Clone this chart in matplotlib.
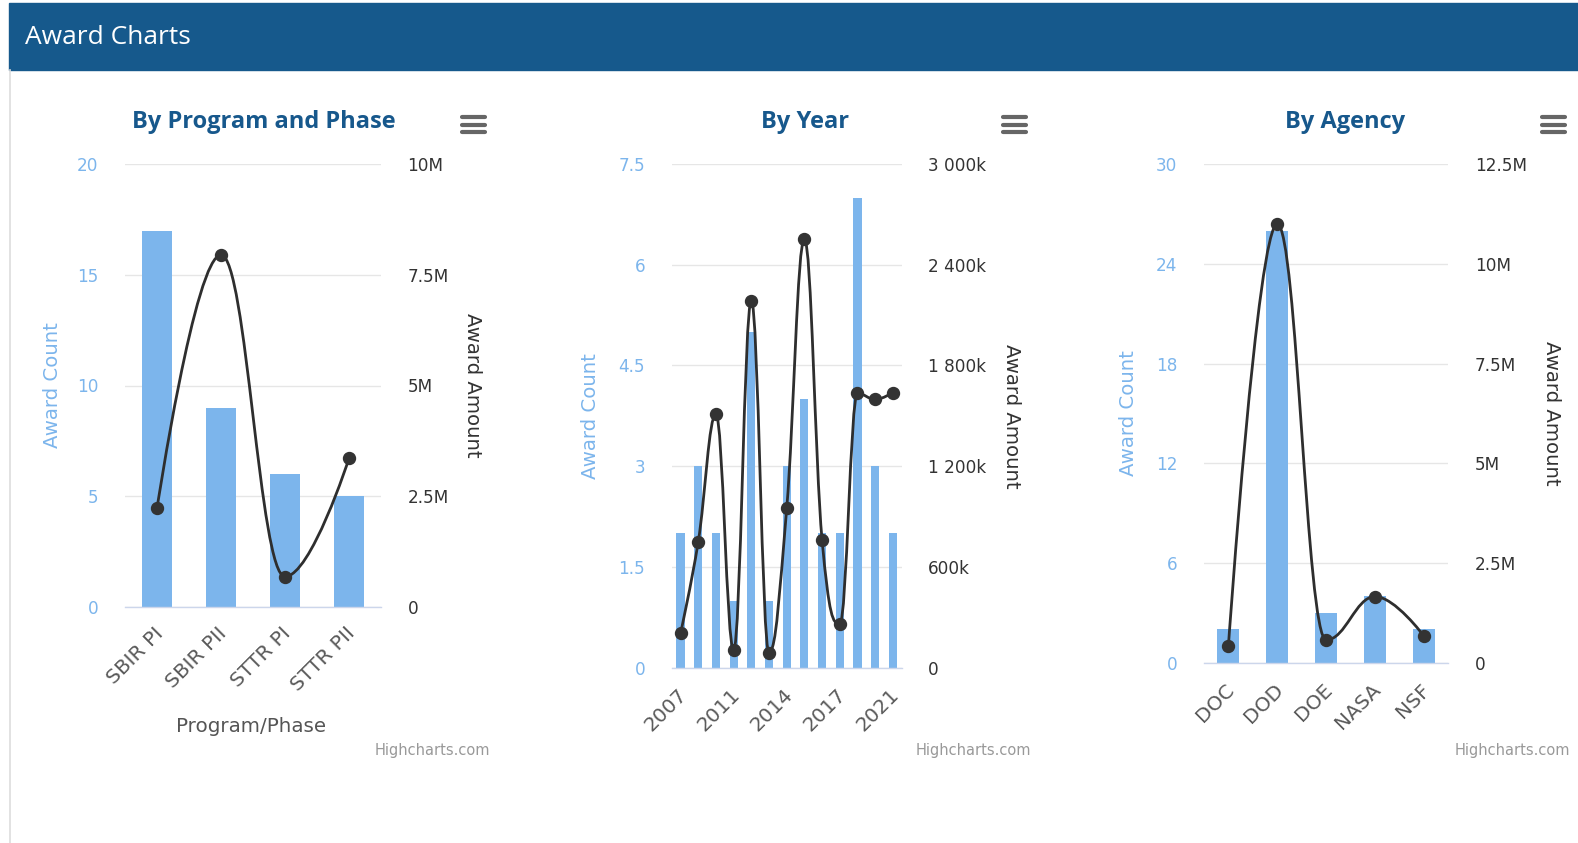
import matplotlib
matplotlib.use("Agg")
import matplotlib.pyplot as plt
from matplotlib.path import Path
from matplotlib.patches import PathPatch, Rectangle
from matplotlib.lines import Line2D
from matplotlib.ticker import FixedLocator, FuncFormatter

# ---- data ---------------------------------------------------------------
phase_labels = ["SBIR PI", "SBIR PII", "STTR PI", "STTR PII"]
phase_counts = [17, 9, 6, 5]
phase_amounts = [2.22e6, 7.95e6, 0.68e6, 3.35e6]

year_labels = ["2007", "2008", "2010", "2011", "2012", "2013", "2014",
               "2015", "2016", "2017", "2018", "2019", "2021"]
year_counts = [2, 3, 2, 1, 5, 1, 3, 4, 2, 2, 7, 3, 2]
year_amounts = [205e3, 750e3, 1509e3, 105e3, 2186e3, 89e3, 949e3,
                2553e3, 760e3, 260e3, 1634e3, 1598e3, 1638e3]

agency_labels = ["DOC", "DOD", "DOE", "NASA", "NSF"]
agency_counts = [2, 26, 3, 4, 2]
agency_amounts = [0.43e6, 11.0e6, 0.57e6, 1.66e6, 0.67e6]

# ---- styling ------------------------------------------------------------
W, H = 1578, 843
DPI = 100
BAR = "#7cb5ec"
LINE = "#2e2e2e"
TITLE_BLUE = "#17588c"
HEADER_BLUE = "#16598c"
GRID = "#e6e6e6"
AXIS = "#ccd6eb"
TICK_DARK = "#333333"
XTICK = "#5a5a5a"

fig = plt.figure(figsize=(W / DPI, H / DPI), dpi=DPI)
fig.patch.set_facecolor("white")


def fx(x):
    return x / W


def fy(y):
    return 1 - y / H


def axes_px(x0, x1, y0, y1):
    return fig.add_axes([fx(x0), fy(y1), (x1 - x0) / W, (y1 - y0) / H])


# page header and left border
fig.add_artist(Rectangle((fx(9), fy(70)), fx(W) - fx(9), (70 - 3) / H,
                         transform=fig.transFigure, color=HEADER_BLUE, zorder=0))
fig.add_artist(Line2D([fx(9.5), fx(9.5)], [fy(70), fy(843)],
                      transform=fig.transFigure, color="#dddddd", lw=1.2))
fig.text(fx(25), fy(38), "Award Charts", color="white", fontsize=19,
         family="Open Sans", va="center", ha="left")


def hc_spline(xs, ys):
    """Cubic path through the points using the Highcharts spline rule."""
    n = len(xs)
    verts = [(xs[0], ys[0])]
    codes = [Path.MOVETO]
    right = [None] * n
    s = 1.5
    d = s + 1
    for i in range(1, n):
        px, py = xs[i], ys[i]
        lx, ly = xs[i - 1], ys[i - 1]
        left = (px, py)
        if i < n - 1:
            nx, ny = xs[i + 1], ys[i + 1]
            lcx = (s * px + lx) / d
            lcy = (s * py + ly) / d
            rcx = (s * px + nx) / d
            rcy = (s * py + ny) / d
            corr = 0.0
            if rcx != lcx:
                corr = ((rcy - lcy) * (rcx - px)) / (rcx - lcx) + py - rcy
            lcy += corr
            rcy += corr
            if lcy > ly and lcy > py:
                lcy = max(ly, py)
                rcy = 2 * py - lcy
            elif lcy < ly and lcy < py:
                lcy = min(ly, py)
                rcy = 2 * py - lcy
            if rcy > ny and rcy > py:
                rcy = max(ny, py)
                lcy = 2 * py - rcy
            elif rcy < ny and rcy < py:
                rcy = min(ny, py)
                lcy = 2 * py - rcy
            left = (lcx, lcy)
            right[i] = (rcx, rcy)
        c1 = right[i - 1] if right[i - 1] is not None else (lx, ly)
        verts += [c1, left, (px, py)]
        codes += [Path.CURVE4] * 3
    return Path(verts, codes)


def fmt_millions(v, _):
    if v == 0:
        return "0"
    return f"{v / 1e6:g}M"


def fmt_thousands(v, _):
    if v == 0:
        return "0"
    return f"{int(round(v / 1e3)):,}".replace(",", " ") + "k"


def hamburger(xc, yc):
    for dy in (-7.5, 0, 7.5):
        fig.add_artist(Line2D([fx(xc - 11.5), fx(xc + 11.5)], [fy(yc + dy)] * 2,
                              transform=fig.transFigure, color="#666666",
                              lw=3.0, solid_capstyle="round"))


def panel(box, labels, counts, amounts, cmax, cstep, amax, astep, afmt,
          title, title_x, bar_w, label_every, left_title_x, right_title_x,
          menu_x, credit_x, xlabel=None):
    x0, x1, y0, y1 = box
    ax = axes_px(x0, x1, y0, y1)
    n = len(labels)
    xs = list(range(n))
    ax.bar(xs, counts, width=bar_w, color=BAR, edgecolor="none", zorder=2)
    ax.set_xlim(-0.5, n - 0.5)
    ax.set_ylim(0, cmax)
    cticks = [i * cstep for i in range(int(round(cmax / cstep)) + 1)]
    ax.yaxis.set_major_locator(FixedLocator(cticks))
    ax.yaxis.set_major_formatter(FuncFormatter(lambda v, _: f"{v:g}"))
    ax.grid(axis="y", color=GRID, lw=1, zorder=0)
    ax.set_axisbelow(True)
    for side in ("left", "right", "top"):
        ax.spines[side].set_visible(False)
    ax.spines["bottom"].set_color(AXIS)
    ax.spines["bottom"].set_linewidth(1)
    ax.tick_params(axis="y", length=0, pad=19, labelsize=12.2,
                   labelcolor=BAR)
    ax.tick_params(axis="x", length=0, pad=0)
    ax.set_xticks(xs)
    ax.set_xticklabels([])

    # rotated category labels hang from the axis line
    for i, lab in enumerate(labels):
        if i % label_every:
            continue
        ax.annotate(lab, xy=(i, 0), xycoords=("data", "axes fraction"),
                    xytext=(3, -24), textcoords="offset pixels",
                    rotation=45, rotation_mode="anchor", ha="right",
                    va="center", fontsize=14.5, color=XTICK,
                    annotation_clip=False)

    ax2 = ax.twinx()
    ax2.set_ylim(0, amax)
    aticks = [i * astep for i in range(int(round(amax / astep)) + 1)]
    ax2.yaxis.set_major_locator(FixedLocator(aticks))
    ax2.yaxis.set_major_formatter(FuncFormatter(afmt))
    for side in ("left", "right", "top", "bottom"):
        ax2.spines[side].set_visible(False)
    ax2.tick_params(axis="y", length=0, pad=19, labelsize=12.2,
                    labelcolor=TICK_DARK)
    path = hc_spline([float(v) for v in xs], [float(v) for v in amounts])
    ax2.add_patch(PathPatch(path, facecolor="none", edgecolor=LINE, lw=2,
                            zorder=3, capstyle="round", joinstyle="round"))
    ax2.plot(xs, amounts, ls="none", marker="o", ms=8.6, color="#333333",
             mec="#333333", zorder=4)

    yc = (y0 + y1) / 2
    fig.text(fx(left_title_x), fy(yc), "Award Count", rotation=90,
             color=BAR, fontsize=14.2, ha="center", va="center")
    fig.text(fx(right_title_x), fy(yc), "Award Amount", rotation=-90,
             color=TICK_DARK, fontsize=14.2, ha="center", va="center")
    fig.text(fx(title_x), fy(122), title, color=TITLE_BLUE, fontsize=17,
             family="Open Sans", fontweight="bold", ha="center", va="center")
    hamburger(menu_x, 124.5)
    fig.text(fx(credit_x), fy(750), "Highcharts.com", color="#999999",
             fontsize=10.5, ha="right", va="center")
    if xlabel:
        fig.text(fx((x0 + x1) / 2 - 2), fy(727), xlabel, color="#555555",
                 fontsize=14.3, ha="center", va="center")
    return ax, ax2


panel((125, 381, 164.3, 606.7), phase_labels, phase_counts, phase_amounts,
      20, 5, 10e6, 2.5e6, fmt_millions, "By Program and Phase", 264, 0.47, 1,
      53, 472, 473.5, 490, xlabel="Program/Phase")

panel((671.7, 901.7, 164, 667.7), year_labels, year_counts, year_amounts,
      7.5, 1.5, 3e6, 600e3, fmt_thousands, "By Year", 805, 0.46, 3,
      591, 1012, 1014, 1031)

panel((1204, 1448.3, 164.3, 662.7), agency_labels, agency_counts,
      agency_amounts, 30, 6, 12.5e6, 2.5e6, fmt_millions, "By Agency", 1345,
      0.45, 1, 1128, 1552, 1553, 1570)

fig.savefig("out.png", dpi=DPI, facecolor="white")
